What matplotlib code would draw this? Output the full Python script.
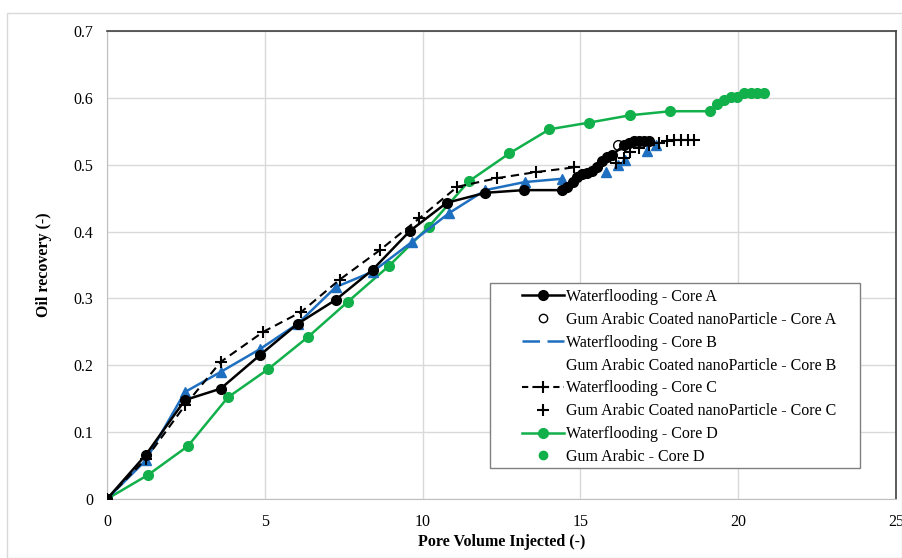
import matplotlib
matplotlib.use("Agg")
import matplotlib.pyplot as plt
from matplotlib.lines import Line2D
from matplotlib.patches import Rectangle

plt.rcParams['font.family'] = ['Liberation Serif', 'DejaVu Serif']

# Core A
wf_a_x = [0, 1.23, 2.47, 3.6, 4.84, 6.04, 7.25, 8.42, 9.6, 10.76, 11.99, 13.2, 14.43,
          14.59, 14.75, 14.9, 15.06, 15.22, 15.38, 15.54, 15.7, 15.85, 16.01,
          16.39, 16.55, 16.71, 16.87, 17.03, 17.18]
wf_a_y = [0, 0.066, 0.148, 0.165, 0.215, 0.262, 0.298, 0.343, 0.401, 0.443, 0.458, 0.462, 0.462,
          0.467, 0.474, 0.481, 0.486, 0.488, 0.490, 0.497, 0.506, 0.511, 0.515,
          0.529, 0.532, 0.535, 0.535, 0.535, 0.535]
ga_a_x = [16.2]
ga_a_y = [0.529]

# Core B
wf_b_x = [0, 1.23, 2.47, 3.6, 4.84, 6.04, 7.25, 8.42, 9.65, 10.85, 11.99, 13.23, 14.43]
wf_b_y = [0, 0.058, 0.160, 0.190, 0.224, 0.262, 0.317, 0.340, 0.384, 0.428, 0.462, 0.474, 0.479]
ga_b_x = [15.82, 16.2, 16.4, 17.1, 17.4]
ga_b_y = [0.489, 0.500, 0.507, 0.520, 0.530]

# Core C
wf_c_x = [0, 1.23, 2.47, 3.6, 4.95, 6.16, 7.37, 8.64, 9.9, 11.1, 12.37, 13.6, 14.8]
wf_c_y = [0, 0.060, 0.140, 0.205, 0.250, 0.280, 0.328, 0.372, 0.420, 0.467, 0.480, 0.489, 0.496]
ga_c_x = [16.14, 16.39, 16.58, 16.87, 17.18, 17.5, 17.75, 17.97, 18.2, 18.42, 18.6]
ga_c_y = [0.503, 0.510, 0.519, 0.525, 0.529, 0.532, 0.535, 0.537, 0.537, 0.537, 0.537]

# Core D
wf_d_x = [0, 1.3, 2.56, 3.83, 5.1, 6.36, 7.63, 8.92, 10.19, 11.46, 12.75, 14.02, 15.28, 16.58, 17.85, 19.11]
wf_d_y = [0, 0.036, 0.079, 0.152, 0.194, 0.242, 0.295, 0.348, 0.407, 0.475, 0.517, 0.553, 0.563, 0.574, 0.580, 0.580]
ga_d_x = [19.34, 19.56, 19.78, 19.97, 20.19, 20.41, 20.6, 20.82]
ga_d_y = [0.591, 0.597, 0.601, 0.601, 0.607, 0.607, 0.607, 0.607]

x_ticks = [0, 5, 10, 15, 20, 25]
y_ticks = [0, 0.1, 0.2, 0.3, 0.4, 0.5, 0.6, 0.7]
y_ticklabels = ['0', '0.1', '0.2', '0.3', '0.4', '0.5', '0.6', '0.7']

blue = '#1f6fc0'
green = '#11b04b'

fig = plt.figure(figsize=(9.03, 5.58), dpi=100)
fig.patches.append(Rectangle((7/903, 0), 895/903, 545/558, transform=fig.transFigure,
                             fill=False, edgecolor='#d9d9d9', linewidth=1))
ax = fig.add_axes([107/903, 1 - 499/558, 789/903, 468/558])

ax.plot(wf_a_x, wf_a_y, '-o', color='black', lw=1.8, ms=7, zorder=5)
ax.plot(ga_a_x, ga_a_y, 'o', mfc='white', mec='black', ms=7, zorder=4)
ax.plot(wf_b_x, wf_b_y, '-^', color=blue, lw=1.8, ms=7, zorder=4)
ax.plot(ga_b_x, ga_b_y, '^', color=blue, ms=7, zorder=4)
ax.plot(wf_c_x, wf_c_y, '--+', color='black', lw=1.5, ms=9, mew=1.5, dashes=(4, 2.5), zorder=4)
ax.plot(ga_c_x, ga_c_y, '+', color='black', ms=9, mew=1.5, zorder=4)
ax.plot(wf_d_x, wf_d_y, '-o', color=green, lw=1.8, ms=7, zorder=3)
ax.plot(ga_d_x, ga_d_y, 'o', color=green, ms=7, zorder=3)

ax.set_xlim(0, 25)
ax.set_ylim(0, 0.7)
ax.set_xticks(x_ticks)
ax.set_yticks(y_ticks)
ax.set_yticklabels(y_ticklabels)
ax.tick_params(axis='x', length=0, labelsize=11.5, pad=11)
ax.tick_params(axis='y', length=0, labelsize=11.5, pad=10)
ax.grid(True, color='#d9d9d9', lw=1)
ax.set_axisbelow(True)
for s in ['left', 'bottom']:
    ax.spines[s].set_color('#bfbfbf')
for s in ['top', 'right']:
    ax.spines[s].set_color('#404040')
    ax.spines[s].set_linewidth(1.2)

ax.set_xlabel('Pore Volume Injected (-)', fontsize=11.5, fontweight='bold', labelpad=3)
ax.set_ylabel('Oil recovery (-)', fontsize=11.5, fontweight='bold', labelpad=15)

# legend frame
ax.add_patch(Rectangle(((490 - 107) / 789, (499 - 468) / 468), 370 / 789, 185 / 468,
                       transform=ax.transAxes, facecolor='white', edgecolor='#808080',
                       lw=1, zorder=9))

handles = [
    Line2D([], [], color='black', marker='o', lw=1.8, ms=7),
    Line2D([], [], color='black', marker='o', mfc='white', lw=0, ms=6),
    Line2D([], [], color=blue, lw=1.8, dashes=(7, 3)),
    Line2D([], [], lw=0),
    Line2D([], [], color='black', marker='+', lw=1.5, ms=9, mew=1.5, dashes=(3, 2)),
    Line2D([], [], color='black', marker='+', lw=0, ms=8, mew=1.5),
    Line2D([], [], color=green, marker='o', lw=1.8, ms=7),
    Line2D([], [], color=green, marker='o', lw=0, ms=6),
]
labels = ['Waterflooding - Core A', 'Gum Arabic Coated nanoParticle - Core A',
          'Waterflooding - Core B', 'Gum Arabic Coated nanoParticle - Core B',
          'Waterflooding - Core C', 'Gum Arabic Coated nanoParticle - Core C',
          'Waterflooding - Core D', 'Gum Arabic - Core D']
leg = ax.legend(handles, labels, loc='upper left',
                bbox_to_anchor=((522 - 107) / 789, (499 - 289) / 468),
                fontsize=11.5, frameon=False, borderpad=0, labelspacing=0.43,
                handlelength=2.6, handletextpad=0.15, borderaxespad=0)
leg.set_zorder(10)

fig.savefig('out.png', dpi=100)
